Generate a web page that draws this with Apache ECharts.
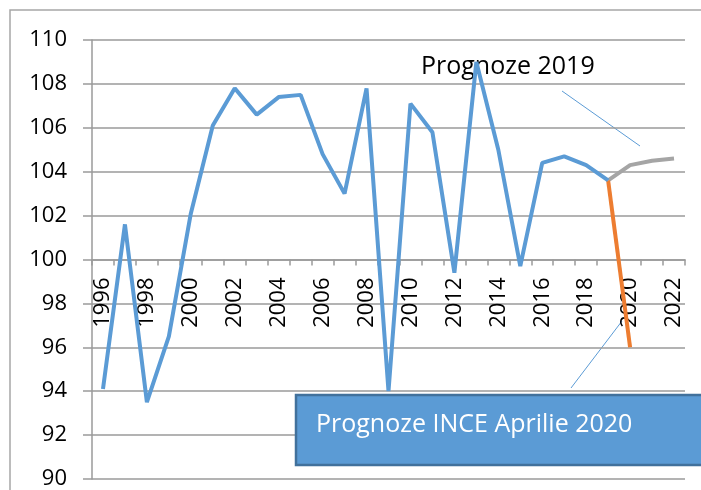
<!DOCTYPE html>
<html>
<head>
<meta charset="utf-8">
<script src="https://cdn.jsdelivr.net/npm/echarts@6/dist/echarts.min.js"></script>
<style>
  html, body { margin: 0; padding: 0; background: #fff; }
  #chart { width: 701px; height: 490px; }
</style>
</head>
<body>
<div id="chart"></div>
<script>
const years = ['1996','1997','1998','1999','2000','2001','2002','2003','2004','2005','2006','2007','2008','2009',
  '2010','2011','2012','2013','2014','2015','2016','2017','2018','2019','2020','2021','2022'];
// observed index 1996-2019
const actual = [94.1, 101.6, 93.5, 96.5, 102.1, 106.1, 107.8, 106.6, 107.4, 107.5, 104.8, 103.0, 107.8, 94.0,
  107.1, 105.8, 99.4, 109.0, 105.0, 99.7, 104.4, 104.7, 104.3, 103.6];
// forecasts start from 2019
const forecast2019 = [103.6, 104.3, 104.5, 104.6];
const forecastInce = [103.6, 96.0];
const yTicks = [90, 92, 94, 96, 98, 100, 102, 104, 106, 108, 110];

const pad = (arr, start) => years.map((y, i) => (i >= start && i - start < arr.length) ? arr[i - start] : null);
const startIdx = years.indexOf('2019');

const chart = echarts.init(document.getElementById('chart'));
const font = '"Open Sans", "Liberation Sans", sans-serif';

chart.setOption({
  animation: false,
  grid: { left: 92, right: 16, top: 40, bottom: 11 },
  xAxis: {
    type: 'category',
    data: years,
    boundaryGap: true,
    offset: -219.5,
    axisLine: { lineStyle: { color: '#9a9a9a', width: 1.5 } },
    axisTick: { show: true, length: 6, interval: 0, lineStyle: { color: '#9a9a9a', width: 1.5 } },
    axisLabel: {
      rotate: 90, interval: 1, margin: 18,
      color: '#000', fontSize: 22, fontFamily: font
    },
    splitLine: { show: false }
  },
  yAxis: {
    type: 'value',
    min: yTicks[0], max: yTicks[yTicks.length - 1], interval: 2,
    axisLine: { show: true, lineStyle: { color: '#9a9a9a', width: 1.5 } },
    axisTick: { show: true, length: 9, lineStyle: { color: '#9a9a9a', width: 1.5 } },
    axisLabel: { margin: 25, color: '#000', fontSize: 22, fontFamily: font },
    splitLine: { show: true, lineStyle: { color: '#9a9a9a', width: 1.5 } }
  },
  series: [
    {
      type: 'line', data: pad(actual, 0), symbol: 'none',
      lineStyle: { color: '#5b9bd5', width: 4 }, z: 3
    },
    {
      type: 'line', data: pad(forecast2019, startIdx), symbol: 'none',
      lineStyle: { color: '#a5a5a5', width: 4 }, z: 2
    },
    {
      type: 'line', data: pad(forecastInce, startIdx), symbol: 'none',
      lineStyle: { color: '#ed7d31', width: 4 }, z: 2
    }
  ],
  graphic: [
    { type: 'polyline', shape: { points: [[10, 490], [10, 10], [701, 10]] },
      style: { stroke: '#a6a6a6', lineWidth: 1.5, fill: null }, silent: true },
    { type: 'text', x: 421, y: 67, z: 1,
      style: { text: 'Prognoze 2019', fill: '#000', font: '25px ' + font, verticalAlign: 'middle' } },
    { type: 'line', shape: { x1: 562, y1: 91, x2: 640, y2: 146 },
      style: { stroke: '#5b9bd5', lineWidth: 1 } },
    { type: 'line', shape: { x1: 571, y1: 388, x2: 622, y2: 321 },
      style: { stroke: '#5b9bd5', lineWidth: 1 } },
    { type: 'rect', shape: { x: 296, y: 395, width: 410, height: 70 },
      style: { fill: '#5b9bd5', stroke: '#41719c', lineWidth: 2.5 }, z: 10 },
    { type: 'text', x: 316, y: 425, z: 11,
      style: { text: 'Prognoze INCE Aprilie 2020', fill: '#fff', font: '25px ' + font, verticalAlign: 'middle' } }
  ]
});
</script>
</body>
</html>
